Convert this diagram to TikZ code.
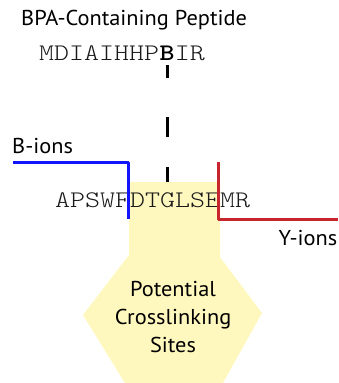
\documentclass[tikz,border=0pt]{standalone}
\usepackage{fontspec}
\setmainfont[FakeStretch=1.04]{PT Sans}
\newfontfamily\seqfont[FakeStretch=1.2]{Latin Modern Mono Light}
\definecolor{siteyellow}{RGB}{255,248,190}
\definecolor{bblue}{RGB}{20,20,250}
\definecolor{yred}{RGB}{200,38,46}
\begin{document}
\begin{tikzpicture}[x=1pt,y=-1pt,
  label/.style={inner sep=0pt,font=\fontsize{21.5}{28}\selectfont},
  seq/.style={inner sep=0pt,font=\seqfont\fontsize{23.8}{25}\selectfont,text=black!90},
  ionline/.style={line width=3pt,line join=round}]
\useasboundingbox (0,0) rectangle (338,383);

% crosslinking window and site region
\fill[siteyellow] (129,182) -- (220,182) -- (220,257) -- (262,313) -- (223,383)
  -- (125,383) -- (83,315) -- (129,255) -- cycle;

% titles
\node[label,anchor=base west] (title) at (21,25) {BPA-Containing Peptide};
\node[label,anchor=base west] (bions) at (12,153) {B-ions};
\node[label,anchor=base east] (yions) at (337.5,245) {Y-ions};
\node[label,align=center,anchor=base] (sites) at (173,352)
  {Potential\\Crosslinking\\Sites};

% BPA-containing peptide, with the BPA residue as its own node
\node[seq,anchor=base west] (pre) at (39,60) {MDIAIHHP};
\node[seq,anchor=base west,font=\seqfont\bfseries\fontsize{23.8}{25}\selectfont,text=black]
  (bres) at (pre.base east) {B};
\node[seq,anchor=base west] (post) at (bres.base east) {IR};

% target peptide
\node[seq,anchor=base west] (target) at (55,207) {APSWFDTGLSEMR};

% fragment ion boundaries
\coordinate (bstart) at (13,162);
\coordinate (bend) at (128.5,219);
\coordinate (ystart) at (218.5,162);
\coordinate (yend) at (338,219);
\draw[ionline,bblue] (bstart) -| (bend);
\draw[ionline,yred] (ystart) |- (yend);

% crosslink from BPA to the target peptide
\coordinate (sitetop) at (bres.south |- 0,182);
\draw[line width=3pt,dash pattern=on 13pt off 39pt on 20pt off 30pt on 15pt off 10pt]
  ([yshift=-5pt]bres.south) -- (sitetop);
\end{tikzpicture}
\end{document}
